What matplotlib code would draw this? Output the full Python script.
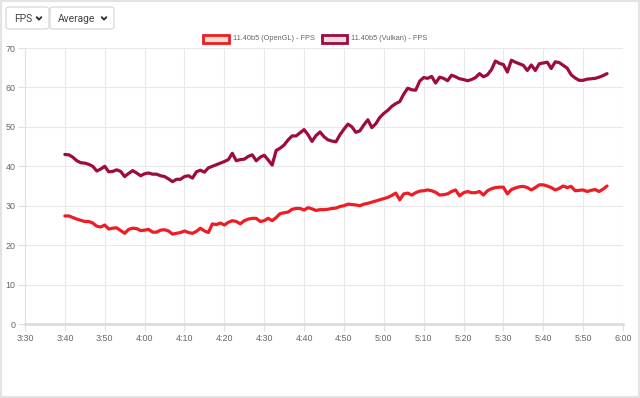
import matplotlib
matplotlib.use("Agg")
import matplotlib.pyplot as plt
from matplotlib.patches import FancyBboxPatch, Rectangle
from matplotlib.lines import Line2D

# ---------------- data ----------------
start_minute = 220  # 3:40 expressed in minutes after 0:00
opengl = [27.4, 27.4, 27.0, 26.6, 26.3, 26.0, 26.0, 25.6, 24.8, 24.6,
          25.1, 24.1, 24.3, 24.4, 23.7, 23.0, 24.0, 24.3, 24.2, 23.7,
          23.8, 24.0, 23.3, 23.3, 23.8, 23.9, 23.6, 22.8, 23.0, 23.2,
          23.6, 23.2, 23.0, 23.5, 24.3, 23.6, 23.2, 25.4, 25.2, 25.6,
          25.1, 25.8, 26.2, 26.0, 25.4, 26.2, 26.6, 26.8, 26.8, 26.0,
          26.2, 26.8, 26.2, 27.0, 28.0, 28.2, 28.4, 29.1, 29.3, 29.3,
          28.9, 29.5, 29.2, 28.8, 29.0, 29.0, 29.1, 29.3, 29.4, 29.8,
          30.0, 30.4, 30.3, 30.2, 30.0, 30.4, 30.6, 30.9, 31.2, 31.5,
          31.8, 32.1, 32.6, 33.2, 31.5, 33.0, 33.2, 32.7, 33.3, 33.7,
          33.8, 34.0, 33.8, 33.4, 32.7, 32.8, 33.0, 33.6, 34.0, 32.5,
          33.3, 33.6, 33.3, 33.3, 33.6, 32.7, 33.8, 34.3, 34.6, 34.7,
          34.7, 33.0, 34.1, 34.5, 34.8, 34.9, 34.6, 34.0, 34.6, 35.3,
          35.3, 35.0, 34.6, 34.0, 34.4, 35.0, 34.6, 34.9, 33.8, 33.9,
          34.0, 33.6, 33.9, 34.1, 33.6, 34.2, 35.0]
vulkan = [43.0, 42.9, 42.3, 41.4, 40.9, 40.8, 40.5, 40.0, 38.8, 39.3,
          40.0, 38.6, 38.7, 39.1, 38.7, 37.4, 38.2, 38.9, 38.3, 37.6,
          38.1, 38.3, 38.0, 38.0, 37.6, 37.4, 36.8, 36.1, 36.7, 36.7,
          37.4, 37.6, 37.0, 38.6, 39.0, 38.5, 39.6, 40.0, 40.4, 40.8,
          41.2, 41.7, 43.3, 41.4, 41.7, 41.8, 42.5, 42.9, 41.4, 42.3,
          42.8, 41.6, 40.3, 44.0, 44.6, 45.4, 46.7, 47.7, 47.7, 48.5,
          49.3, 48.0, 46.3, 47.8, 48.7, 47.5, 46.7, 46.4, 46.2, 48.0,
          49.4, 50.7, 50.0, 48.6, 49.0, 50.5, 51.8, 49.8, 50.8, 52.4,
          53.4, 54.2, 55.2, 55.9, 56.4, 58.3, 59.8, 59.4, 59.3, 61.6,
          62.5, 62.3, 62.8, 61.1, 62.6, 62.3, 61.7, 63.1, 62.7, 62.2,
          62.0, 61.7, 62.0, 62.5, 63.5, 62.7, 63.2, 64.5, 66.7, 66.1,
          65.8, 63.9, 66.9, 66.4, 66.0, 65.6, 64.3, 65.7, 64.3, 66.0,
          66.2, 66.4, 64.8, 66.5, 66.3, 65.6, 64.9, 63.2, 62.4, 61.8,
          61.8, 62.1, 62.2, 62.3, 62.6, 63.0, 63.5]
times = [start_minute + i for i in range(len(opengl))]

x_ticks = list(range(210, 361, 10))
x_tick_labels = ["3:30", "3:40", "3:50", "4:00", "4:10", "4:20", "4:30", "4:40",
                 "4:50", "5:00", "5:10", "5:20", "5:30", "5:40", "5:50", "6:00"]
y_ticks = [0, 10, 20, 30, 40, 50, 60, 70]
series_names = ["11.40b5 (OpenGL) - FPS", "11.40b5 (Vulkan) - FPS"]
series_colors = ["#ee1d25", "#9e0b40"]
series_fills = ["#f6dccd", "#e9dde4"]
buttons = ["FPS", "Average"]

# ---------------- figure ----------------
W, H = 640, 398
fig = plt.figure(figsize=(W / 100, H / 100), dpi=100)
plt.rcParams['font.family'] = ['Liberation Sans', 'DejaVu Sans']

def fx(px):
    return px / W

def fy(py):
    return 1 - py / H

# outer panel frame
fig.patches.append(Rectangle((fx(0.8), fy(397)), fx(638.4), 396.2 / H,
                             transform=fig.transFigure, fill=False,
                             edgecolor="#e3e3e3", linewidth=1.5))

# dropdown buttons
btn_boxes = [(6, 49), (50, 114)]
for (x0, x1), label in zip(btn_boxes, buttons):
    fig.patches.append(FancyBboxPatch((fx(x0), fy(29)), fx(x1 - x0), 22 / H,
                                      boxstyle="round,pad=0,rounding_size=0.006",
                                      transform=fig.transFigure, facecolor="white",
                                      edgecolor="#d8d8d8", linewidth=0.9))
    fig.text(fx(x0 + 8), fy(18.5), label, fontsize=7.4, color="#444444",
             family="Roboto", va="center", ha="left")
    cx = x1 - 10
    fig.lines.append(Line2D([fx(cx - 2.3), fx(cx), fx(cx + 2.3)],
                            [fy(17.2), fy(19.6), fy(17.2)], transform=fig.transFigure,
                            color="#333333", linewidth=1.4,
                            solid_capstyle="round", solid_joinstyle="round"))

# axes
ax = fig.add_axes([fx(25), fy(324), fx(623 - 25), (324 - 48) / H])
ax.set_xlim(210, 360)
ax.set_ylim(0, 70)
for name, vals, col in zip(series_names, [opengl, vulkan], series_colors):
    ax.plot(times, vals, color=col, linewidth=2.3, solid_joinstyle="round",
            solid_capstyle="round", label=name, zorder=3)

ax.set_xticks(x_ticks)
ax.set_xticklabels(x_tick_labels)
ax.set_yticks(y_ticks)
ax.grid(True, color="#e9e9e9", linewidth=0.8)
ax.set_axisbelow(True)
for side in ["top", "right"]:
    ax.spines[side].set_visible(False)
ax.spines["left"].set_color("#e0e0e0")
ax.spines["left"].set_linewidth(0.8)
ax.spines["bottom"].set_color("#dcdcdc")
ax.spines["bottom"].set_linewidth(2.0)
ax.tick_params(axis="both", colors="#e0e0e0", labelcolor="#666666",
               labelsize=6.4, length=5, width=0.8, pad=2)

# legend (custom boxes like Chart.js)
legend_items = [(203, 229, 233), (322, 347, 351)]
for (bx0, bx1, tx), name, col, fill in zip(legend_items, series_names,
                                           series_colors, series_fills):
    fig.patches.append(Rectangle((fx(bx0), fy(42.5)), fx(bx1 - bx0), 8 / H,
                                 transform=fig.transFigure, facecolor=fill,
                                 edgecolor=col, linewidth=2.0))
    fig.text(fx(tx), fy(38.5), name, fontsize=5.3, color="#666666",
             va="center", ha="left")

fig.savefig("out.png", dpi=100, facecolor="white")
